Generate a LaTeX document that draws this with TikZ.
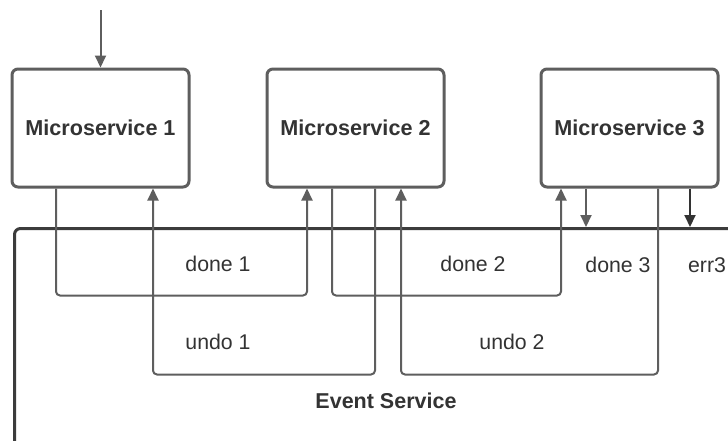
\documentclass[tikz,border=0pt]{standalone}
\usepackage{fontspec}
\setmainfont{Liberation Sans}
\usetikzlibrary{arrows.meta,calc}
\definecolor{linegray}{HTML}{5E5E5E}
\definecolor{evgray}{HTML}{3C3C3C}
\definecolor{txt}{HTML}{333333}
\definecolor{errc}{HTML}{333333}
\tikzset{
  msbox/.style={draw=linegray,line width=3pt,rounded corners=6pt,minimum width=177pt,minimum height=118pt,fill=white,
    font=\fontsize{21.6}{25}\selectfont\bfseries,text=txt},
  evbox/.style={draw=evgray,line width=3pt,rounded corners=6pt,anchor=north west,minimum width=760pt,minimum height=260pt},
  conn/.style={draw=linegray,line width=2pt,rounded corners=4pt},
  arr/.style={-{Triangle[width=11pt,length=12pt]}},
  lbl/.style={font=\fontsize{21.3}{25}\selectfont,text=txt,inner sep=0pt},
  blbl/.style={font=\fontsize{21.5}{25}\selectfont\bfseries,text=txt,inner sep=0pt}
}
\begin{document}
\begin{tikzpicture}[x=1pt,y=-1pt]
\useasboundingbox (0,0) rectangle (728,440);
\clip (0,0) rectangle (728,440);
\fill[white] (0,0) rectangle (728,440);

\node[evbox] (ev) at (13,227) {};
\node[blbl] (evl) at (386,401) {Event Service};

\node[msbox] (m1) at (100.5,128) {Microservice 1};
\node[msbox] (m2) at (355.5,128) {Microservice 2};
\node[msbox] (m3) at (629.5,128) {Microservice 3};

\coordinate (in) at (100.5,10);
\draw[conn,arr] (in) -- (m1.north);

% done 1
\draw[conn,arr] ([xshift=-44.5]m1.south) -- ++(0,107) -| ([xshift=-48.5]m2.south);
% undo 1
\draw[conn,arr] ([xshift=19.5]m2.south) -- ++(0,186) -| ([xshift=52.5]m1.south);
% done 2
\draw[conn,arr] ([xshift=-23.5]m2.south) -- ++(0,107) -| ([xshift=-68.5]m3.south);
% undo 2
\draw[conn,arr] ([xshift=28.5]m3.south) -- ++(0,186) -| ([xshift=45.5]m2.south);
% done 3
\draw[conn,arr] ([xshift=-43.5]m3.south) -- ([xshift=-43.5]m3.south |- ev.north);
% err3
\draw[conn,arr,draw=errc] ([xshift=60.5]m3.south) -- ([xshift=60.5]m3.south |- ev.north);

\node[lbl] (d1) at (218,264) {done 1};
\node[lbl] (u1) at (218,342) {undo 1};
\node[lbl] (d2) at (473,264) {done 2};
\node[lbl] (u2) at (512,342) {undo 2};
\node[lbl] (d3) at (618,265) {done 3};
\node[lbl] (e3) at (707,265) {err3};
\end{tikzpicture}
\end{document}
